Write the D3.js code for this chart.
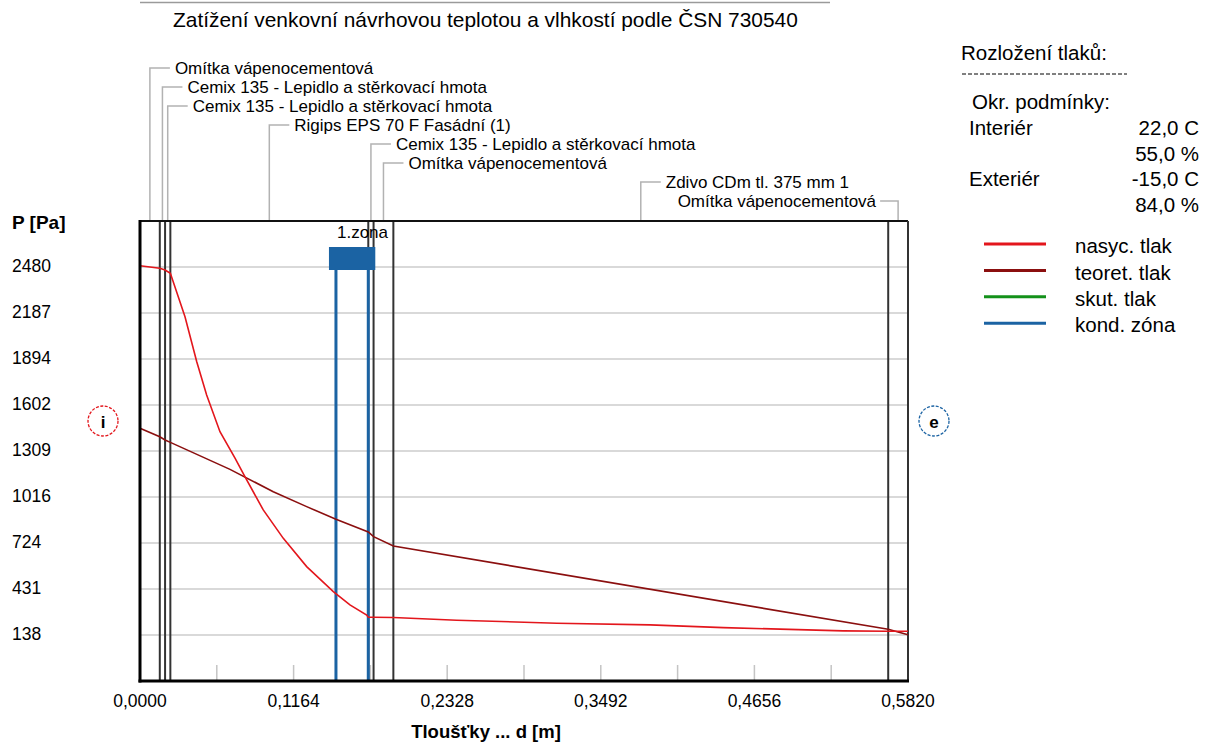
<!DOCTYPE html>
<html>
<head>
<meta charset="utf-8">
<script src="https://cdn.jsdelivr.net/npm/d3@7"></script>
<style>
  body { margin: 0; background: #fff; }
  svg text { font-family: "Liberation Sans", Arial, sans-serif; fill: #000; }
</style>
</head>
<body>
<svg id="chart"></svg>
<script>
var width = 1207,
    height = 742;

// skladba konstrukce (od interieru)
var layerNames = [
  "Omítka vápenocementová",
  "Cemix 135 - Lepidlo a stěrkovací hmota",
  "Cemix 135 - Lepidlo a stěrkovací hmota",
  "Rigips EPS 70 F Fasádní (1)",
  "Cemix 135 - Lepidlo a stěrkovací hmota",
  "Omítka vápenocementová",
  "Zdivo CDm tl. 375 mm 1",
  "Omítka vápenocementová"
];
var layerThick = [0.015, 0.004, 0.004, 0.150, 0.004, 0.015, 0.375, 0.015];

// nasyceny tlak
var satX = [0, 0.015, 0.019, 0.023, 0.0341, 0.043, 0.0505, 0.0606, 0.072, 0.0796, 0.0934, 0.1086, 0.1263, 0.1465, 0.1591, 0.1718, 0.173, 0.177, 0.192, 0.240, 0.3158, 0.3865, 0.442, 0.533, 0.567, 0.582];
var satP = [2488, 2472, 2461, 2440, 2164, 1877, 1665, 1432, 1264, 1145, 934, 753, 573, 414, 329, 265, 251, 251, 249, 232, 213, 202, 185, 164, 162, 162];

// teoreticky tlak
var teorX = [0, 0.015, 0.019, 0.023, 0.0682, 0.101, 0.1263, 0.1485, 0.173, 0.177, 0.192, 0.567, 0.582];
var teorP = [1454, 1400, 1379, 1364, 1192, 1050, 955, 874, 794, 764, 704, 174, 139];

// kondenzacni zona
var zoneX = [0.1485, 0.173];
var zoneName = "1.zona";

var yTicks = [138, 431, 724, 1016, 1309, 1602, 1894, 2187, 2480];
var xTicks = [0, 0.1164, 0.2328, 0.3492, 0.4656, 0.582];

var condLabels = ["Okr. podmínky:", "Interiér", "", "Exteriér", ""];
var condValues = ["", "22,0 C", "55,0 %", "-15,0 C", "84,0 %"];

var legendNames = ["nasyc. tlak", "teoret. tlak", "skut. tlak", "kond. zóna"];
var legendColors = ["#e3161c", "#8b0f0f", "#13911a", "#1b63a3"];

var title = "Zatížení venkovní návrhovou teplotou a vlhkostí podle ČSN 730540";

var svg = d3.select("#chart")
    .attr("width", width)
    .attr("height", height);

var plot = {left: 140, right: 908, top: 221, bottom: 681};

var total = d3.sum(layerThick);
var xScale = d3.scaleLinear().domain([0, total]).range([plot.left, plot.right]);
var yStep = yTicks[1] - yTicks[0];
var yScale = d3.scaleLinear()
    .domain([yTicks[0] - yStep, yTicks[yTicks.length - 1] + yStep])
    .range([plot.bottom, plot.top]);

// hranice vrstev
var bounds = [0];
layerThick.forEach(function(t, i) { bounds.push(bounds[i] + t); });

// titulek
svg.append("line")
    .attr("x1", plot.left).attr("x2", 830)
    .attr("y1", 2.5).attr("y2", 2.5)
    .style("stroke", "#9a9a9a").style("stroke-width", 1.5);

svg.append("text")
    .attr("x", 173).attr("y", 27)
    .style("font-size", "20.9px")
    .text(title);

// mrizka
svg.append("g").selectAll("line")
    .data(yTicks)
    .enter().append("line")
    .attr("x1", plot.left).attr("x2", plot.right)
    .attr("y1", function(d) { return yScale(d); })
    .attr("y2", function(d) { return yScale(d); })
    .style("stroke", "#cdcdcd").style("stroke-width", 1.5);

// male znacky na ose x
svg.append("g").selectAll("line")
    .data(d3.range(1, 10).map(function(i) { return total / 10 * i; }))
    .enter().append("line")
    .attr("x1", function(d) { return xScale(d); })
    .attr("x2", function(d) { return xScale(d); })
    .attr("y1", plot.bottom - 16).attr("y2", plot.bottom)
    .style("stroke", "#c4c4c4").style("stroke-width", 1.5);

// popisky vrstev s odkazovymi carami
var centers = layerThick.map(function(t, i) { return bounds[i] + t / 2; });
var labelG = svg.append("g");
layerNames.forEach(function(name, i) {
  var cx = xScale(centers[i]),
      ry = 68 + 19 * i,
      last = (i == layerNames.length - 1);
  labelG.append("path")
      .attr("d", "M" + cx + "," + plot.top + "V" + ry + "H" + (last ? cx - 18 : cx + 20))
      .style("fill", "none")
      .style("stroke", "#b2b2b2").style("stroke-width", 1.5);
  labelG.append("text")
      .attr("x", last ? cx - 22 : cx + 25)
      .attr("y", ry)
      .attr("dy", "0.35em")
      .style("font-size", "17px")
      .style("text-anchor", last ? "end" : "start")
      .text(name);
});

// carovane hranice vrstev
svg.append("g").selectAll("line")
    .data(bounds.slice(1, -1))
    .enter().append("line")
    .attr("x1", function(d) { return xScale(d); })
    .attr("x2", function(d) { return xScale(d); })
    .attr("y1", plot.top).attr("y2", plot.bottom)
    .style("stroke", "#333").style("stroke-width", 2);

// ramecek grafu
svg.append("line")
    .attr("x1", plot.left).attr("x2", plot.right)
    .attr("y1", plot.top).attr("y2", plot.top)
    .style("stroke", "#111").style("stroke-width", 2);
svg.append("line")
    .attr("x1", plot.right).attr("x2", plot.right)
    .attr("y1", plot.top).attr("y2", plot.bottom)
    .style("stroke", "#333").style("stroke-width", 2);

// kondenzacni zona
var zx0 = xScale(zoneX[0]), zx1 = xScale(zoneX[1]);
svg.append("rect")
    .attr("x", zx0 - 7).attr("y", 247)
    .attr("width", zx1 - zx0 + 14).attr("height", 23)
    .style("fill", legendColors[3]);
svg.append("g").selectAll("line")
    .data(zoneX)
    .enter().append("line")
    .attr("x1", function(d) { return xScale(d); })
    .attr("x2", function(d) { return xScale(d); })
    .attr("y1", 270).attr("y2", plot.bottom)
    .style("stroke", legendColors[3]).style("stroke-width", 3);
svg.append("text")
    .attr("x", zx0 + 1).attr("y", 238)
    .style("font-size", "17px")
    .text(zoneName);

// krivky
var line = d3.line()
    .x(function(d) { return xScale(d[0]); })
    .y(function(d) { return yScale(d[1]); });

svg.append("path")
    .datum(teorX.map(function(x, i) { return [x, teorP[i]]; }))
    .attr("d", line)
    .style("fill", "none")
    .style("stroke", legendColors[1]).style("stroke-width", 1.6);

svg.append("path")
    .datum(satX.map(function(x, i) { return [x, satP[i]]; }))
    .attr("d", line)
    .style("fill", "none")
    .style("stroke", legendColors[0]).style("stroke-width", 1.6);

// osy
svg.append("line")
    .attr("x1", plot.left).attr("x2", plot.left)
    .attr("y1", plot.top - 1).attr("y2", plot.bottom + 1.5)
    .style("stroke", "#000").style("stroke-width", 3);
svg.append("line")
    .attr("x1", plot.left - 1.5).attr("x2", plot.right + 1)
    .attr("y1", plot.bottom).attr("y2", plot.bottom)
    .style("stroke", "#000").style("stroke-width", 3);

svg.append("g").selectAll("text")
    .data(yTicks)
    .enter().append("text")
    .attr("x", 12)
    .attr("y", function(d) { return yScale(d) - 1; })
    .attr("dy", "0.35em")
    .style("font-size", "17.5px")
    .text(function(d) { return d; });

var fmt = d3.format(".4f");
svg.append("g").selectAll("text")
    .data(xTicks)
    .enter().append("text")
    .attr("x", function(d) { return xScale(d); })
    .attr("y", 707)
    .style("font-size", "17.5px")
    .style("text-anchor", "middle")
    .text(function(d) { return fmt(d).replace(".", ","); });

svg.append("text")
    .attr("x", 12).attr("y", 222)
    .attr("dy", "0.35em")
    .style("font-size", "19px").style("font-weight", "bold")
    .text("P [Pa]");

svg.append("text")
    .attr("x", 486).attr("y", 738)
    .style("font-size", "18.5px").style("font-weight", "bold")
    .style("text-anchor", "middle")
    .text("Tloušťky ... d [m]");

// znacky interier / exterier
var marks = [
  {t: "i", x: 103, c: legendColors[0]},
  {t: "e", x: 934, c: legendColors[3]}
];
marks.forEach(function(m) {
  svg.append("circle")
      .attr("cx", m.x).attr("cy", 421).attr("r", 15)
      .style("fill", "none")
      .style("stroke", m.c).style("stroke-width", 1.3)
      .style("stroke-dasharray", "3,1.5");
  svg.append("text")
      .attr("x", m.x).attr("y", 421)
      .attr("dy", "0.4em")
      .style("font-size", "17px").style("font-weight", "bold")
      .style("text-anchor", "middle")
      .text(m.t);
});

// panel vpravo
svg.append("text")
    .attr("x", 961).attr("y", 53)
    .attr("dy", "0.35em")
    .style("font-size", "20.5px")
    .text("Rozložení tlaků:");
svg.append("line")
    .attr("x1", 962).attr("x2", 1127)
    .attr("y1", 74).attr("y2", 74)
    .style("stroke", "#000").style("stroke-width", 1)
    .style("stroke-dasharray", "4,2");

condLabels.forEach(function(t, i) {
  var ry = 102 + 25.7 * i;
  svg.append("text")
      .attr("x", i == 0 ? 972 : 969).attr("y", ry)
      .attr("dy", "0.35em")
      .style("font-size", "20.5px")
      .text(t);
  svg.append("text")
      .attr("x", 1199).attr("y", ry)
      .attr("dy", "0.35em")
      .style("font-size", "20.5px")
      .style("text-anchor", "end")
      .text(condValues[i]);
});

var legend = svg.append("g");
legendNames.forEach(function(n, i) {
  var ry = 244 + 26.4 * i;
  legend.append("line")
      .attr("x1", 984).attr("x2", 1046)
      .attr("y1", ry).attr("y2", ry)
      .style("stroke", legendColors[i]).style("stroke-width", 3);
  legend.append("text")
      .attr("x", 1075).attr("y", ry + 2)
      .attr("dy", "0.35em")
      .style("font-size", "20.5px")
      .text(n);
});
</script>
</body>
</html>
